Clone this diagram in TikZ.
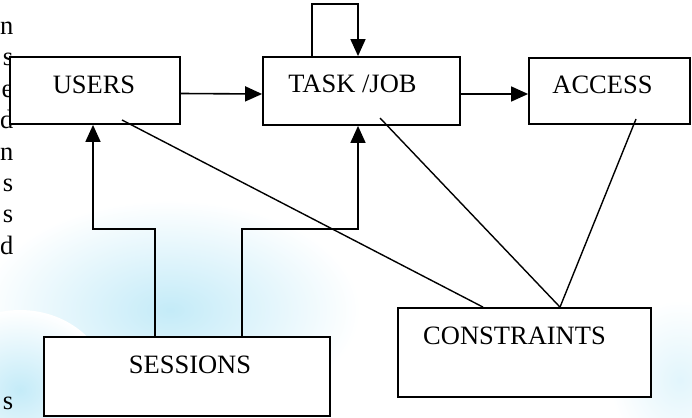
\documentclass[tikz,border=0pt]{standalone}
\usepackage{fontspec}
\setmainfont{Liberation Serif}
\usetikzlibrary{arrows.meta,positioning,calc}
\definecolor{wmblue}{RGB}{196,235,248}
\tikzset{
    box/.style={
        rectangle, draw, fill=white,
        line width=1.8pt,
        inner sep=0pt,
    },
    lbl/.style={
        font=\fontsize{26.5}{30}\selectfont,
        inner sep=0pt,
    },
    margintext/.style={lbl, anchor=base east},
    arrow/.style={line width=1.6pt, -{Triangle[length=17pt,width=15pt]}},
    link/.style={line width=1.4pt},
}

\begin{document}
\begin{tikzpicture}[x=1pt, y=-1pt]
    \useasboundingbox (0,0) rectangle (692,417);

    % faint background
    \shade[inner color=wmblue, outer color=white] (170,310) ellipse (190 and 110);
    \shade[inner color=wmblue, outer color=white] (20,390) ellipse (90 and 80);
    \shade[inner color=wmblue!50, outer color=white] (680,380) ellipse (70 and 80);

    % cut text on the left
    \foreach \txt/\y [count=\i] in {n/35, s/66, e/97, d/128, n/160, s/191, s/222, d/254, s/409}
        \node[margintext] (margin\i) at (13.5,\y) {\txt};

    % boxes
    \node[box, minimum width=170pt, minimum height=67pt] (users) at (95,90.5) {};
    \node[box, minimum width=197pt, minimum height=68pt] (task) at (361.5,91) {};
    \node[box, minimum width=161pt, minimum height=66pt] (access) at (609.5,91) {};
    \node[box, minimum width=253pt, minimum height=89pt] (constraints) at (524.5,352.5) {};
    \node[box, minimum width=286pt, minimum height=79pt] (sessions) at (187,376.5) {};

    % labels
    \node[lbl] (userstext) at ([shift={(-1,-6)}]users.center) {USERS};
    \node[lbl] (tasktext) at ([shift={(-9,-7)}]task.center) {TASK /JOB};
    \node[lbl] (accesstext) at ([shift={(-7,-6)}]access.center) {ACCESS};
    \node[lbl] (constraintstext) at ([shift={(-10,-16.5)}]constraints.center) {CONSTRAINTS};
    \node[lbl] (sessionstext) at ([shift={(3,-12)}]sessions.center) {SESSIONS};

    % arrows
    \draw [arrow] ([yshift=-3pt]users.east) -- ([yshift=-3pt]task.west);
    \draw [arrow] ([yshift=-3pt]task.east) -- ([yshift=-3pt]access.west);
    \draw [arrow] ([xshift=-49.5pt]task.north) -- ++(0,-52) -| ([xshift=-3.5pt]task.north);
    \draw [arrow] ([xshift=-32pt]sessions.north) -- ++(0,-107) -| ([xshift=-2pt]users.south);
    \draw [arrow] ([xshift=55pt]sessions.north) -- ++(0,-107) -| ([xshift=-3.5pt]task.south);

    % links to constraints
    \draw [link] ([shift={(27,29.5)}]users.center) -- ([xshift=-41.5pt]constraints.north);
    \draw [link] ([shift={(18.5,27)}]task.center) -- ([xshift=35.5pt]constraints.north);
    \draw [link] ([shift={(26.5,28)}]access.center) -- ([xshift=35.5pt]constraints.north);

\end{tikzpicture}
\end{document}
